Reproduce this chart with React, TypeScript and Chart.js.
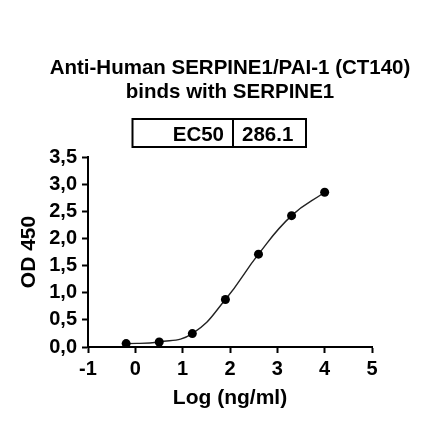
import { useRef, useEffect } from "react";
import { Chart, registerables, type ChartConfiguration, type Plugin } from "chart.js";

Chart.register(...registerables);

// log10 of concentration (ng/ml) and OD450 readings
const logConc = [-0.194, 0.505, 1.204, 1.903, 2.602, 3.301, 4.0];
const od450 = [0.063, 0.092, 0.247, 0.874, 1.71, 2.42, 2.85];

const titleLines = ["Anti-Human SERPINE1/PAI-1 (CT140)", "binds with SERPINE1"];
const ec50Label = "EC50";
const ec50Value = "286.1";

const FONT = "'Liberation Sans', Arial, sans-serif";

// title and EC50 table above the plot
const headerPlugin: Plugin = {
  id: "header",
  afterDraw(chart) {
    const { ctx } = chart;
    ctx.save();
    ctx.fillStyle = "#000";
    ctx.font = `bold 20.5px ${FONT}`;
    ctx.textAlign = "center";
    ctx.textBaseline = "alphabetic";
    ctx.fillText(titleLines[0], 230, 74);
    ctx.fillText(titleLines[1], 230, 98);

    ctx.strokeStyle = "#000";
    ctx.lineWidth = 2;
    ctx.strokeRect(132.5, 119, 173.5, 28);
    ctx.beginPath();
    ctx.moveTo(233, 119);
    ctx.lineTo(233, 147);
    ctx.stroke();

    ctx.textAlign = "right";
    ctx.fillText(ec50Label, 224, 141);
    ctx.textAlign = "left";
    ctx.fillText(ec50Value, 242, 141);
    ctx.restore();
  },
};

export default function App() {
  const chartRef = useRef<HTMLCanvasElement | null>(null);
  const chartInstanceRef = useRef<Chart | null>(null);

  useEffect(() => {
    if (!chartRef.current) return;
    const ctx = chartRef.current.getContext("2d");
    if (!ctx) return;
    if (chartInstanceRef.current) chartInstanceRef.current.destroy();

    const config: ChartConfiguration<"line"> = {
      type: "line",
      data: {
        datasets: [
          {
            data: logConc.map((x, i) => ({ x, y: od450[i] })),
            tension: 0.45,
            cubicInterpolationMode: "default",
            fill: false,
            borderColor: "#222",
            borderWidth: 1.4,
            pointRadius: 4.5,
            pointBackgroundColor: "#000",
            pointBorderColor: "#000",
            pointBorderWidth: 0,
          },
        ],
      },
      options: {
        animation: false,
        responsive: true,
        maintainAspectRatio: false,
        layout: { padding: { top: 157, right: 68, left: 0, bottom: 0 } },
        plugins: {
          legend: { display: false },
          title: { display: false },
          tooltip: { enabled: false },
        },
        scales: {
          x: {
            type: "linear",
            min: -1,
            max: 5,
            ticks: {
              stepSize: 1,
              color: "#000",
              padding: 4,
              font: { family: FONT, size: 20, weight: "bold" },
            },
            grid: {
              drawOnChartArea: false,
              drawTicks: true,
              tickLength: 6,
              tickWidth: 2,
              tickColor: "#000",
            },
            border: { display: true, width: 2, color: "#000" },
            title: {
              display: true,
              text: "Log (ng/ml)",
              color: "#000",
              font: { family: FONT, size: 21, weight: "bold" },
              padding: { top: 0, bottom: 30 },
            },
            afterFit(scale) {
              scale.height = 94;
            },
          },
          y: {
            min: 0,
            max: 3.5,
            ticks: {
              stepSize: 0.5,
              color: "#000",
              padding: 5,
              font: { family: FONT, size: 20, weight: "bold" },
              callback: (v) => Number(v).toFixed(1).replace(".", ","),
            },
            grid: {
              drawOnChartArea: false,
              drawTicks: true,
              tickLength: 6,
              tickWidth: 2,
              tickColor: "#000",
            },
            border: { display: true, width: 2, color: "#000" },
            title: {
              display: true,
              text: "OD 450",
              color: "#000",
              font: { family: FONT, size: 21, weight: "bold" },
              padding: { top: 17, bottom: 0 },
            },
            afterFit(scale) {
              scale.width = 88;
            },
          },
        },
      },
      plugins: [headerPlugin],
    };

    chartInstanceRef.current = new Chart(ctx, config);

    return () => {
      if (chartInstanceRef.current) {
        chartInstanceRef.current.destroy();
        chartInstanceRef.current = null;
      }
    };
  }, []);

  return (
    <div style={{ position: "fixed", left: 0, top: 0, width: 440, height: 441, background: "#fff" }}>
      <canvas ref={chartRef} />
    </div>
  );
}
